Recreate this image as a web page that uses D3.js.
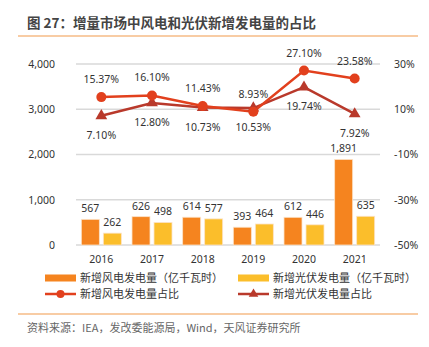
<!DOCTYPE html>
<html lang="zh">
<head>
<meta charset="UTF-8">
<script src="https://d3js.org/d3.v7.min.js"></script>
<style>
  body { margin: 0; background: #fff; font-family: "Noto Sans CJK SC", "Noto Sans", sans-serif; }
  svg text { fill: #333; }
</style>
</head>
<body>
<script>
  // chart data
  const years = ["2016", "2017", "2018", "2019", "2020", "2021"];
  const windGen = [567, 626, 614, 393, 612, 1891];
  const solarGen = [262, 498, 577, 464, 446, 635];
  const windShare = [15.37, 16.10, 11.43, 8.93, 27.10, 23.58];
  const solarShare = [7.10, 12.80, 10.73, 10.53, 19.74, 7.92];
  const leftTicks = [0, 1000, 2000, 3000, 4000];
  const rightTicks = [-50, -30, -10, 10, 30];

  const W = 429, H = 347;
  const C = { orange: "#F5841F", yellow: "#FBBE2B", wind: "#E2401D", solar: "#B9392B", grid: "#D9D9D9", rule: "#F29A4A" };

  const svg = d3.select("body").append("svg").attr("width", W).attr("height", H);

  // title + rules
  svg.append("text").attr("x", 27).attr("y", 28)
    .style("font-size", "13.5px").style("font-weight", "bold").style("fill", "#444")
    .text("图 27：增量市场中风电和光伏新增发电量的占比");
  svg.append("line").attr("x1", 18).attr("x2", 418).attr("y1", 36).attr("y2", 36)
    .attr("stroke", C.rule).attr("stroke-width", 1.2);
  svg.append("line").attr("x1", 18).attr("x2", 418).attr("y1", 314).attr("y2", 314)
    .attr("stroke", C.rule).attr("stroke-width", 1.2);
  svg.append("text").attr("x", 27).attr("y", 332)
    .style("font-size", "11px").style("fill", "#666")
    .text("资料来源：IEA，发改委能源局，Wind，天风证券研究所");

  const pl = 76, pr = 380, pt = 64, pb = 245;

  const x = d3.scaleBand().domain(years).range([pl, pr]);
  const yL = d3.scaleLinear().domain([0, 4000]).range([pb, pt]);
  const yR = d3.scaleLinear().domain([-50, 30]).range([pb, pt]);

  // gridlines
  svg.append("g").selectAll("line").data(leftTicks).enter().append("line")
    .attr("x1", pl).attr("x2", pr)
    .attr("y1", d => yL(d)).attr("y2", d => yL(d))
    .attr("stroke", C.grid).attr("stroke-width", 1.5);

  // left axis
  const axL = svg.append("g").attr("transform", `translate(${pl - 18},0)`)
    .call(d3.axisLeft(yL).tickValues(leftTicks).tickFormat(d3.format(",")).tickSize(0));
  axL.select(".domain").remove();
  axL.selectAll("text").style("font-size", "10.5px").style("font-family", "Noto Sans, sans-serif").attr("fill", "#333");

  // right axis
  const axR = svg.append("g").attr("transform", `translate(${pr + 11},0)`)
    .call(d3.axisRight(yR).tickValues(rightTicks).tickFormat(d => d + "%").tickSize(0));
  axR.select(".domain").remove();
  axR.selectAll("text").style("font-size", "10.5px").style("font-family", "Noto Sans, sans-serif").attr("fill", "#333");

  // x axis
  const axX = svg.append("g").attr("transform", `translate(0,${pb + 8})`)
    .call(d3.axisBottom(x).tickSize(0));
  axX.select(".domain").remove();
  axX.selectAll("text").style("font-size", "10.5px").style("font-family", "Noto Sans, sans-serif").attr("fill", "#333");

  // bars
  const bw = 18, gap = 4;
  const cx = d => x(d) + x.bandwidth() / 2;
  const barGroups = [
    { vals: windGen, color: C.orange, off: -gap / 2 - bw },
    { vals: solarGen, color: C.yellow, off: gap / 2 }
  ];
  barGroups.forEach(g => {
    svg.append("g").selectAll("rect").data(years).enter().append("rect")
      .attr("x", (d) => cx(d) + g.off)
      .attr("y", (d, i) => yL(g.vals[i]))
      .attr("width", bw)
      .attr("height", (d, i) => pb - yL(g.vals[i]))
      .attr("fill", g.color)
      .attr("stroke", "#FCE3C8").attr("stroke-width", 0.8);
    svg.append("g").selectAll("text").data(years).enter().append("text")
      .attr("x", d => cx(d) + g.off + bw / 2)
      .attr("y", (d, i) => yL(g.vals[i]) - 7)
      .attr("text-anchor", "middle")
      .style("font-size", "10.5px").style("font-family", "Noto Sans, sans-serif")
      .text((d, i) => d3.format(",")(g.vals[i]));
  });

  // lines
  const line = vals => d3.line().x((d, i) => cx(years[i])).y(d => yR(d))(vals);
  svg.append("path").attr("d", line(solarShare)).attr("fill", "none")
    .attr("stroke", C.solar).attr("stroke-width", 2.5);
  svg.append("path").attr("d", line(windShare)).attr("fill", "none")
    .attr("stroke", C.wind).attr("stroke-width", 2.5);

  const tri = d3.symbol().type(d3.symbolTriangle).size(60);
  svg.append("g").selectAll("path").data(solarShare).enter().append("path")
    .attr("d", tri)
    .attr("transform", (d, i) => `translate(${cx(years[i])},${yR(d)})`)
    .attr("fill", C.solar);
  svg.append("g").selectAll("circle").data(windShare).enter().append("circle")
    .attr("cx", (d, i) => cx(years[i])).attr("cy", d => yR(d)).attr("r", 5)
    .attr("fill", C.wind);

  // percent labels: wind above, solar below
  svg.append("g").selectAll("text").data(windShare).enter().append("text")
    .attr("x", (d, i) => cx(years[i])).attr("y", d => yR(d) - 14)
    .attr("text-anchor", "middle")
    .style("font-size", "10.5px").style("font-family", "Noto Sans, sans-serif")
    .text(d => d.toFixed(2) + "%");
  svg.append("g").selectAll("text").data(solarShare).enter().append("text")
    .attr("x", (d, i) => cx(years[i])).attr("y", d => yR(d) + 23)
    .attr("text-anchor", "middle")
    .style("font-size", "10.5px").style("font-family", "Noto Sans, sans-serif")
    .text(d => d.toFixed(2) + "%");

  // legend
  const lg = svg.append("g").style("font-size", "11px");
  const items = [
    { x: 45, y: 278, kind: "bar", color: C.orange, label: "新增风电发电量（亿千瓦时）" },
    { x: 238, y: 278, kind: "bar", color: C.yellow, label: "新增光伏发电量（亿千瓦时）" },
    { x: 45, y: 294, kind: "circle", color: C.wind, label: "新增风电发电量占比" },
    { x: 238, y: 294, kind: "tri", color: C.solar, label: "新增光伏发电量占比" }
  ];
  items.forEach(it => {
    if (it.kind === "bar") {
      lg.append("rect").attr("x", it.x).attr("y", it.y - 3.5).attr("width", 31).attr("height", 7).attr("fill", it.color);
    } else {
      lg.append("line").attr("x1", it.x).attr("x2", it.x + 31).attr("y1", it.y).attr("y2", it.y)
        .attr("stroke", it.color).attr("stroke-width", 2.5);
      if (it.kind === "circle") {
        lg.append("circle").attr("cx", it.x + 15.5).attr("cy", it.y).attr("r", 4).attr("fill", it.color);
      } else {
        lg.append("path").attr("d", d3.symbol().type(d3.symbolTriangle).size(40))
          .attr("transform", `translate(${it.x + 15.5},${it.y})`).attr("fill", it.color);
      }
    }
    lg.append("text").attr("x", it.x + 35).attr("y", it.y + 4).text(it.label);
  });
</script>
</body>
</html>
